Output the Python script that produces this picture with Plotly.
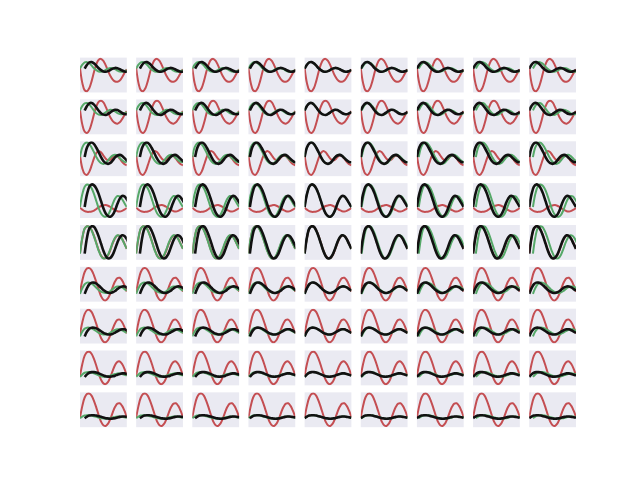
import plotly.graph_objects as go

# shared sample positions along each panel's x axis
t = [0.0, 0.05, 0.1, 0.15, 0.2, 0.25, 0.3, 0.35, 0.4, 0.45, 0.5,
     0.55, 0.6, 0.65, 0.7, 0.75, 0.8, 0.85, 0.9, 0.95, 1.0]

red_rows = [
    [.72, .25, .03, .0, .1, .32, .6, .84, .97, 1.0, .94, .8, .63, .47, .36, .3, .29, .33, .43, .56, .68],
    [.72, .26, .04, .0, .09, .31, .59, .83, .97, 1.0, .95, .81, .64, .48, .37, .31, .29, .33, .43, .56, .68],
    [.6, .2, .03, .0, .1, .3, .52, .68, .74, .7, .6, .5, .45, .47, .55, .6, .58, .5, .4, .33, .3],
    [.28, .22, .17, .15, .15, .16, .19, .24, .29, .33, .35, .36, .34, .3, .25, .2, .17, .16, .18, .22, .27],
    [.17, .63, .92, 1.0, .98, .88, .7, .48, .26, .09, .01, .01, .1, .27, .47, .63, .71, .7, .61, .46, .3],
    [.25, .62, .88, .99, 1.0, .93, .77, .56, .33, .13, .02, .0, .07, .22, .42, .59, .69, .70, .62, .47, .27],
    [.25, .62, .88, .99, 1.0, .93, .77, .56, .33, .13, .02, .0, .07, .22, .42, .59, .69, .70, .62, .47, .27],
    [.25, .62, .88, .99, 1.0, .93, .77, .56, .33, .13, .02, .0, .07, .22, .42, .59, .69, .70, .62, .47, .27],
    [.25, .62, .88, .99, 1.0, .93, .77, .56, .33, .13, .02, .0, .07, .22, .42, .59, .69, .70, .62, .47, .27],
]

green_rows = [
    [.7, .82, .89, .9, .86, .79, .71, .65, .61, .6, .62, .66, .7, .72, .71, .68, .64, .61, .6, .62, .65],
    [.7, .84, .92, .93, .88, .79, .69, .61, .57, .56, .59, .64, .69, .72, .71, .67, .62, .59, .58, .61, .65],
    [.55, .85, .97, 1.0, .95, .84, .7, .55, .43, .36, .34, .37, .45, .54, .6, .62, .59, .52, .45, .4, .39],
    [.3, .7, .93, 1.0, .97, .87, .7, .48, .26, .1, .02, .0, .06, .2, .4, .56, .64, .63, .54, .42, .3],
    [.15, .65, .93, 1.0, .98, .86, .68, .46, .24, .08, .0, .02, .12, .3, .5, .65, .72, .7, .6, .45, .3],
    [.2, .38, .5, .55, .55, .52, .46, .39, .32, .27, .24, .23, .25, .29, .35, .4, .43, .43, .4, .35, .3],
    [.18, .33, .42, .45, .45, .43, .39, .34, .29, .26, .24, .24, .26, .3, .34, .38, .4, .4, .37, .33, .29],
    [.22, .3, .35, .37, .37, .36, .33, .3, .27, .24, .23, .23, .24, .26, .29, .31, .33, .33, .31, .29, .26],
    [.24, .29, .32, .33, .33, .32, .3, .28, .26, .24, .23, .22, .23, .24, .26, .28, .29, .29, .28, .27, .25],
]

# per-column lag between the green and black traces
col_delay = [0.1, 0.08, 0.06, 0.03, 0.0, -0.02, -0.04, -0.06, -0.08]

NR, NC = 9, 9
W, H = 640, 480
left, right, top, bottom = 80.0, 576.0, 57.6, 427.2
wsp, hsp = 0.2, 0.2
pw = (right - left) / (NC + (NC - 1) * wsp)
ph = (bottom - top) / (NR + (NR - 1) * hsp)

RED, GREEN, BLACK = "#C44E52", "#55A868", "#111111"

fig = go.Figure()
layout = {}
for r in range(NR):
    for c in range(NC):
        k = r * NC + c + 1
        xa = "x" if k == 1 else f"x{k}"
        ya = "y" if k == 1 else f"y{k}"
        d = col_delay[c]
        gx = [v + max(-d, 0) for v in t]
        bx = [v + max(d, 0) for v in t]
        fig.add_trace(go.Scatter(x=t, y=red_rows[r], mode="lines", xaxis=xa, yaxis=ya,
                                 line=dict(color=RED, width=2, shape="spline", smoothing=1.0),
                                 showlegend=False, hoverinfo="skip"))
        fig.add_trace(go.Scatter(x=gx, y=green_rows[r], mode="lines", xaxis=xa, yaxis=ya,
                                 line=dict(color=GREEN, width=2, shape="spline", smoothing=1.0),
                                 showlegend=False, hoverinfo="skip"))
        fig.add_trace(go.Scatter(x=bx, y=green_rows[r], mode="lines", xaxis=xa, yaxis=ya,
                                 line=dict(color=BLACK, width=2.6, shape="spline", smoothing=1.0),
                                 showlegend=False, hoverinfo="skip"))
        vals = red_rows[r] + green_rows[r]
        lo, hi = min(vals), max(vals)
        pad = (hi - lo) * 0.04
        x0 = left + c * pw * (1 + wsp)
        y0 = top + r * ph * (1 + hsp)
        xkey = "xaxis" if k == 1 else f"xaxis{k}"
        ykey = "yaxis" if k == 1 else f"yaxis{k}"
        layout[xkey] = dict(domain=[x0 / W, (x0 + pw) / W], range=[0, 1], anchor=ya,
                            showticklabels=False, ticks="", showgrid=False, zeroline=False,
                            showline=False)
        layout[ykey] = dict(domain=[1 - (y0 + ph) / H, 1 - y0 / H], range=[lo - pad, hi + pad],
                            anchor=xa, showticklabels=False, ticks="", showgrid=False,
                            zeroline=False, showline=False)

fig.update_layout(width=W, height=H, margin=dict(l=0, r=0, t=0, b=0),
                  paper_bgcolor="white", plot_bgcolor="#EAEAF2", **layout)
fig.write_html("out.html")
